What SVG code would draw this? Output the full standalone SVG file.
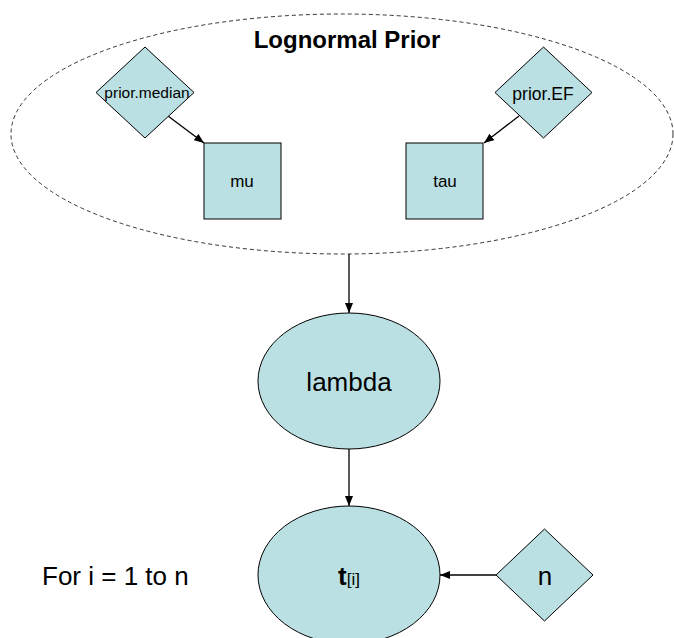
<svg xmlns="http://www.w3.org/2000/svg" width="674" height="638" viewBox="0 0 674 638">
  <defs>
    <marker id="arrow" markerWidth="10" markerHeight="8" refX="10" refY="4" orient="auto" markerUnits="userSpaceOnUse">
      <path d="M0,0 L10,4 L0,8 z" fill="#000"/>
    </marker>
  </defs>
  <style>
    .node { fill: #BBE0E3; stroke: #000; stroke-width: 1; }
    .plate { fill: none; stroke: #333; stroke-width: 1; stroke-dasharray: 4 3; }
    .edge { stroke: #000; stroke-width: 1.3; fill: none; marker-end: url(#arrow); }
    text { font-family: "Liberation Sans", Arial, sans-serif; fill: #000; text-anchor: middle; }
    .lbl { font-size: 26px; }
    .small { font-size: 17px; }
  </style>
  <rect width="674" height="638" fill="#fff"/>

  <g id="plate">
    <ellipse class="plate" cx="342" cy="134" rx="331" ry="120"/>
    <text x="347" y="48" style="font-size:24px;font-weight:bold">Lognormal Prior</text>
  </g>

  <g id="connectors">
    <line class="edge" x1="168" y1="116" x2="204" y2="143"/>
    <line class="edge" x1="519" y1="116" x2="484" y2="143"/>
    <line class="edge" x1="349" y1="254" x2="349" y2="313"/>
    <line class="edge" x1="349" y1="449" x2="349" y2="506"/>
    <line class="edge" x1="496" y1="575" x2="440" y2="575"/>
  </g>

  <g id="prior-median">
    <polygon class="node" points="145,47 194,92.5 145,138 96,92.5"/>
    <text x="147" y="98" style="font-size:15.5px">prior.median</text>
  </g>
  <g id="prior-EF">
    <polygon class="node" points="543.5,47 592,92.5 543.5,138 495,92.5"/>
    <text x="543" y="100" style="font-size:17.5px">prior.EF</text>
  </g>
  <g id="mu">
    <rect class="node" x="204" y="143" width="77" height="76"/>
    <text class="small" x="242" y="187">mu</text>
  </g>
  <g id="tau">
    <rect class="node" x="406" y="143" width="77" height="76"/>
    <text class="small" x="445" y="187">tau</text>
  </g>
  <g id="lambda">
    <ellipse class="node" cx="349" cy="381" rx="91" ry="68"/>
    <text class="lbl" x="349" y="391">lambda</text>
  </g>
  <g id="t">
    <ellipse class="node" cx="349" cy="575" rx="91" ry="69"/>
    <text x="349" y="585"><tspan style="font-size:26px;font-weight:bold">t</tspan><tspan style="font-size:17px">[i]</tspan></text>
  </g>
  <g id="n">
    <polygon class="node" points="544.5,529 593,575 544.5,621 496,575"/>
    <text class="lbl" x="545" y="585">n</text>
  </g>
  <g id="loop-label">
    <text class="lbl" x="42" y="585" style="text-anchor:start">For i = 1 to n</text>
  </g>
</svg>
